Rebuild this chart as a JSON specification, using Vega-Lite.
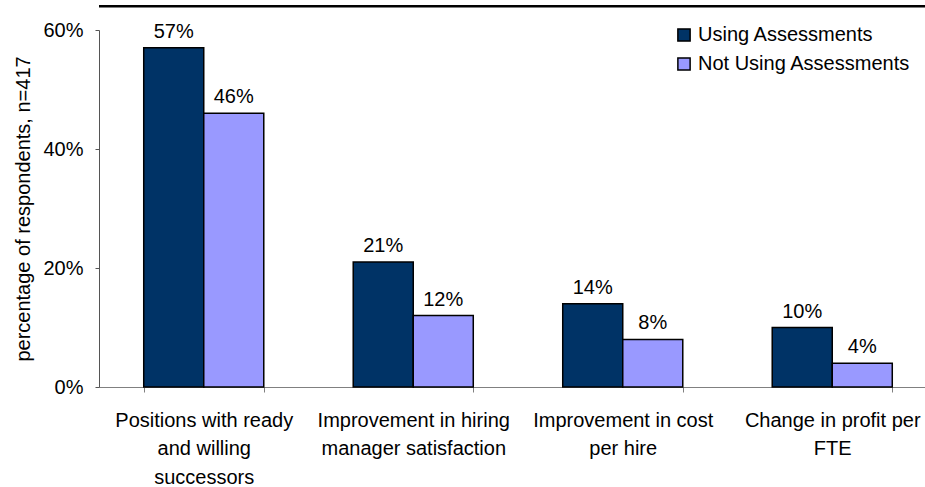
{
  "$schema": "https://vega.github.io/schema/vega-lite/v6.json",
  "width": 826,
  "height": 357,
  "autosize": "none",
  "padding": {"left": 99, "top": 30, "right": 0, "bottom": 100},
  "config": {"font": "Liberation Sans", "view": {"stroke": null}, "text": {"font": "Liberation Sans"}},
  "data": {
    "values": [
      {"category": "Positions with ready|and willing|successors", "series": "Using Assessments", "value": 0.57},
      {"category": "Positions with ready|and willing|successors", "series": "Not Using Assessments", "value": 0.46},
      {"category": "Improvement in hiring|manager satisfaction", "series": "Using Assessments", "value": 0.21},
      {"category": "Improvement in hiring|manager satisfaction", "series": "Not Using Assessments", "value": 0.12},
      {"category": "Improvement in cost|per hire", "series": "Using Assessments", "value": 0.14},
      {"category": "Improvement in cost|per hire", "series": "Not Using Assessments", "value": 0.08},
      {"category": "Change in profit per|FTE", "series": "Using Assessments", "value": 0.10},
      {"category": "Change in profit per|FTE", "series": "Not Using Assessments", "value": 0.04}
    ]
  },
  "layer": [
    {
      "data": {"values": [{"top": 0.64}]},
      "mark": {"type": "rule", "clip": false, "strokeWidth": 2.5, "color": "black"},
      "encoding": {
        "y": {"field": "top", "type": "quantitative", "scale": {"domain": [0, 0.6]}}
      }
    },
    {
      "mark": {"type": "bar", "stroke": "black", "strokeWidth": 1.5},
      "encoding": {
        "x": {
          "field": "category", "type": "nominal", "sort": null,
          "scale": {"range": [0, 838], "paddingInner": 0.427, "paddingOuter": 0.2135},
          "axis": {
            "title": null,
            "labelExpr": "split(datum.label, '|')",
            "labelFontSize": 20,
            "labelLineHeight": 28.5,
            "labelAngle": 0,
            "labelColor": "black",
            "labelLimit": 0,
            "labelBound": false,
            "labelPadding": 18,
            "tickBand": "extent",
            "tickSize": 5,
            "domainColor": "#808080",
            "tickColor": "#808080"
          }
        },
        "xOffset": {"field": "series", "type": "nominal", "sort": ["Using Assessments", "Not Using Assessments"]},
        "y": {
          "field": "value", "type": "quantitative",
          "scale": {"domain": [0, 0.6]},
          "axis": {
            "title": "percentage of respondents, n=417",
            "values": [0, 0.2, 0.4, 0.6],
            "format": ".0%",
            "grid": false,
            "tickSize": 4,
            "labelFontSize": 20,
            "labelColor": "black",
            "labelPadding": 12,
            "titleFontSize": 20,
            "titleFontWeight": "normal",
            "titleColor": "black",
            "titlePadding": 9,
            "domainColor": "#555555",
            "tickColor": "#555555"
          }
        },
        "color": {
          "field": "series", "type": "nominal",
          "scale": {"domain": ["Using Assessments", "Not Using Assessments"], "range": ["#003366", "#9999FF"]},
          "legend": {
            "title": null,
            "orient": "none",
            "legendX": 575,
            "legendY": -5,
            "labelFontSize": 20,
            "labelColor": "black",
            "labelLimit": 0,
            "symbolType": "square",
            "symbolSize": 150,
            "symbolStrokeColor": "black",
            "symbolStrokeWidth": 1.5,
            "symbolOpacity": 1,
            "rowPadding": 9,
            "labelOffset": 4
          }
        }
      }
    },
    {
      "mark": {"type": "text", "baseline": "bottom", "dy": -6, "fontSize": 20, "color": "black"},
      "encoding": {
        "x": {"field": "category", "type": "nominal", "sort": null},
        "xOffset": {"field": "series", "type": "nominal", "sort": ["Using Assessments", "Not Using Assessments"]},
        "y": {"field": "value", "type": "quantitative"},
        "text": {"field": "value", "type": "quantitative", "format": ".0%"}
      }
    }
  ]
}
